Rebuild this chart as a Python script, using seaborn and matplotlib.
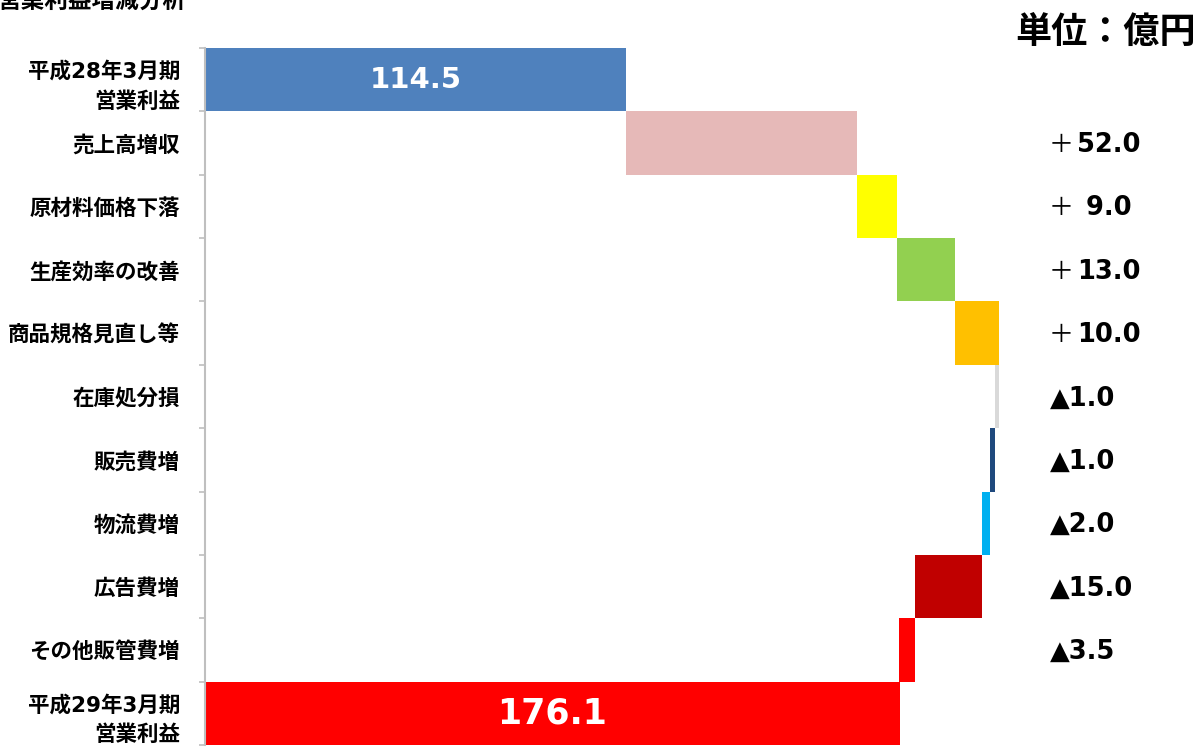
import numpy as np
import pandas as pd
import matplotlib
matplotlib.use("Agg")
import matplotlib.pyplot as plt
import matplotlib.transforms as mtransforms
import seaborn as sns

# ---------------- data ----------------
categories = ["平成28年3月期\n営業利益", "売上高増収", "原材料価格下落", "生産効率の改善",
              "商品規格見直し等", "在庫処分損", "販売費増", "物流費増", "広告費増",
              "その他販管費増", "平成29年3月期\n営業利益"]
start_value = 114.5
deltas = [52.0, 9.0, 13.0, 10.0, -1.0, -1.0, -2.0, -15.0, -3.5]
end_value = 176.1
delta_labels = ["＋52.0", "＋ 9.0", "＋13.0", "＋10.0", "▲1.0", "▲1.0",
                "▲2.0", "▲15.0", "▲3.5"]
bar_colors = ["#4F81BD", "#E6B9B8", "#FFFF00", "#92D050", "#FFC000", "#D9D9D9",
              "#1F497D", "#00B0F0", "#C00000", "#FF0000", "#FF0000"]
axis_min = 20
axis_max = 200

# ---------------- waterfall geometry from data ----------------
cum = np.concatenate([[start_value], start_value + np.cumsum(deltas)])
lefts = [0.0]
rights = [start_value]
for i in range(len(deltas)):
    a, b = cum[i], cum[i + 1]
    lefts.append(min(a, b))
    rights.append(max(a, b))
lefts.append(0.0)
rights.append(end_value)
lefts = np.array(lefts)
rights = np.array(rights)
df = pd.DataFrame({"category": categories, "width": rights - lefts})

# ---------------- plotting ----------------
sns.set_theme(style="white")
plt.rcParams["font.family"] = ["DejaVu Sans", "Noto Sans CJK JP"]

W, H = 1201, 749
fig = plt.figure(figsize=(W / 100, H / 100), dpi=100)
ax = fig.add_axes([205 / W, 1 - 745 / H, (1006 - 205) / W, (745 - 48) / H])

sns.barplot(data=df, x="width", y="category", orient="y", left=lefts,
            width=1.0, linewidth=0, errorbar=None, color="#4F81BD", ax=ax)
for patch, c in zip(ax.patches, bar_colors):
    patch.set_facecolor(c)
    patch.set_edgecolor(c)
    patch.set_linewidth(0)

ax.set_xlim(axis_min, axis_max)
ax.set_ylim(len(categories) - 0.5, -0.5)
ax.set_xlabel("")
ax.set_ylabel("")
ax.set_xticks([])
for s in ["top", "right", "bottom"]:
    ax.spines[s].set_visible(False)
ax.spines["left"].set_color("#BFBFBF")
ax.spines["left"].set_linewidth(1.5)
ax.grid(False)

ax.set_yticks(range(len(categories)))
ax.set_yticklabels(categories)
ax.set_yticks(np.arange(-0.5, len(categories), 1.0), minor=True)
ax.tick_params(axis="y", which="major", length=0, pad=18)
ax.tick_params(axis="y", which="minor", length=4, width=1.2, color="#BFBFBF",
               direction="out", left=True)
for lab in ax.get_yticklabels():
    lab.set_fontsize(15.5)
    lab.set_fontweight("bold")
    lab.set_color("black")
    lab.set_linespacing(1.55)

# value labels to the right
trans = mtransforms.blended_transform_factory(fig.transFigure, ax.transData)
for i, lab in enumerate(delta_labels):
    y = i + 1.03
    if lab.startswith("＋"):
        ax.text(1049 / W, y, "＋", transform=trans, ha="left", va="center",
                fontsize=18, fontweight="normal", color="black", clip_on=False,
                family=["Noto Sans CJK JP"])
        ax.text(1077 / W, y, lab[1:], transform=trans, ha="left", va="center",
                fontsize=18.5, fontweight="bold", color="black", clip_on=False)
    else:
        ax.text(1050 / W, y, lab, transform=trans, ha="left", va="center",
                fontsize=18.5, fontweight="bold", color="black", clip_on=False)

# labels inside the total bars
ax.text((axis_min + start_value) / 2, 0, f"{start_value:.1f}", ha="center",
        va="center", fontsize=21, fontweight="bold", color="white")
ax.text((axis_min + end_value) / 2, len(categories) - 1, f"{end_value:.1f}",
        ha="center", va="center", fontsize=25, fontweight="bold", color="white")

# titles
fig.text(-3 / W, 1 - 1 / H, "営業利益増減分析", ha="left", va="center",
         fontsize=17, fontweight="bold", color="black")
fig.text(1196 / W, 1 - 33 / H, "単位：億円", ha="right", va="center",
         fontsize=26, fontweight="bold", color="black")

fig.savefig("out.png", dpi=100)
